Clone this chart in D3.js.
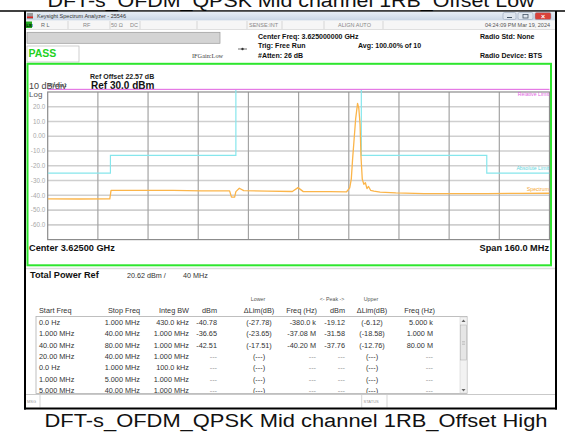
<!DOCTYPE html>
<html>
<head>
<meta charset="utf-8">
<script src="https://cdn.jsdelivr.net/npm/d3@7/dist/d3.min.js"></script>
<style>
  body { margin: 0; background: #fff; }
  svg { display: block; font-family: "Liberation Sans", Arial, sans-serif; }
</style>
</head>
<body>
<div class="canvas"></div>
<script>
// Spectrum trace: offset from center (MHz) and level (dBm)
const traceFreq = [-80, -70, -60.2, -59.8, -50, -40, -31, -22, -21.4, -20.4, -20, -18.9, -17.5, -10, -2,
    -0.2, 1.5, 10, 15.3, 16.3, 16.8, 17.2, 17.7, 18.2, 18.8, 19.2, 19.6, 19.9, 20.3, 20.8, 21.3,
    21.8, 22.3, 23, 24, 26, 31, 40, 50, 60, 70, 80];
const traceDbm = [-42.4, -42.5, -42.4, -36.6, -36.6, -36.7, -37.0, -37.0, -41.2, -41.2, -37.5, -35.2, -36.8, -37.1, -37.4,
    -34.8, -37.5, -37.5, -37.6, -35, -29, -16, -2, 12, 22.3, 19, 8, -14, -29, -32.5, -31.5,
    -35.5, -34, -36.7, -37.2, -37.8, -38.4, -38.8, -38.9, -38.8, -38.7, -38.6];

// Absolute limit line (cyan) and relative limit (magenta)
const absLimitFreq = [-80, -60, -60, -20, -20, 20, 20, 60, 60, 80];
const absLimitDbm = [-25, -25, -13, -13, 40, 40, -13, -13, -25, -25];
const relLimitFreq = [-80, 80];
const relLimitDbm = [31.8, 31.8];

// Axis labels
const yTickValues = [20, 10, 0, -10, -20, -30, -40, -50, -60];
const yTickLabels = ['20.0', '10.0', '0.00', '-10.0', '-20.0', '-30.0', '-40.0', '-50.0', '-60.0'];

// Result table
const startFreq = ['0.0 Hz', '1.000 MHz', '40.00 MHz', '20.00 MHz', '0.0 Hz', '1.000 MHz', '5.000 MHz'];
const stopFreq = ['1.000 MHz', '40.00 MHz', '80.00 MHz', '40.00 MHz', '1.000 MHz', '5.000 MHz', '40.00 MHz'];
const integBw = ['430.0 kHz', '1.000 MHz', '1.000 MHz', '1.000 MHz', '100.0 kHz', '1.000 MHz', '1.000 MHz'];
const lowerDbm = ['-40.78', '-36.65', '-42.51', '---', '---', '---', '---'];
const lowerDelta = ['(-27.78)', '(-23.65)', '(-17.51)', '(---)', '(---)', '(---)', '(---)'];
const lowerFreq = ['-380.0 k', '-37.08 M', '-40.20 M', '---', '---', '---', '---'];
const upperDbm = ['-19.12', '-31.58', '-37.76', '---', '---', '---', '---'];
const upperDelta = ['(-6.12)', '(-18.58)', '(-12.76)', '(---)', '(---)', '(---)', '(---)'];
const upperFreq = ['5.000 k', '1.000 M', '80.00 M', '---', '---', '---', '---'];

const dims = { width: 573, height: 433 };
const plot = { left: 47.7, right: 549.5, top: 92, bottom: 239.6 };

const svg = d3.select('.canvas')
    .append('svg')
    .attr('width', dims.width)
    .attr('height', dims.height);

const text = (x, y, s, size, opts = {}) => svg.append('text')
    .attr('x', x).attr('y', y)
    .attr('font-size', size)
    .attr('fill', opts.fill || '#222')
    .attr('font-weight', opts.bold ? 'bold' : 'normal')
    .attr('text-anchor', opts.anchor || 'start')
    .text(s);

// Captions
text(291, 6.7, 'DFT-s_OFDM_QPSK Mid channel 1RB_Offset Low', 18, { anchor: 'middle', fill: '#111' })
    .attr('textLength', 487).attr('lengthAdjust', 'spacingAndGlyphs');
text(296, 426.5, 'DFT-s_OFDM_QPSK Mid channel 1RB_Offset High', 18, { anchor: 'middle', fill: '#111' })
    .attr('textLength', 503).attr('lengthAdjust', 'spacingAndGlyphs');

// Window frame
svg.append('line').attr('x1', 0).attr('x2', 565).attr('y1', 11).attr('y2', 11)
    .attr('stroke', '#000').attr('stroke-width', 1.5);

const grad = svg.append('defs').append('linearGradient')
    .attr('id', 'titlebar').attr('x1', 0).attr('x2', 0).attr('y1', 0).attr('y2', 1);
grad.append('stop').attr('offset', '0%').attr('stop-color', '#e8eef6');
grad.append('stop').attr('offset', '100%').attr('stop-color', '#c9d5e4');

svg.append('rect').attr('x', 25).attr('y', 11.8).attr('width', 531).attr('height', 8.8)
    .attr('fill', 'url(#titlebar)');
svg.append('rect').attr('x', 27).attr('y', 13).attr('width', 6).attr('height', 6).attr('fill', '#999');
svg.append('rect').attr('x', 27).attr('y', 16.5).attr('width', 6).attr('height', 1.5).attr('fill', '#d22');
text(37, 17.8, 'Keysight Spectrum Analyzer - 25546', 5.5, { fill: '#333' });

// min / max / close buttons
[[503, 13, '#dfe6ef'], [518, 15, '#dfe6ef'], [535, 16, '#d9413a']].forEach(([x, w, c]) => {
    svg.append('rect').attr('x', x).attr('y', 12.5).attr('width', w).attr('height', 7)
        .attr('rx', 1.5).attr('fill', c).attr('stroke', '#8a9ab0').attr('stroke-width', 0.5);
});
svg.append('line').attr('x1', 507).attr('x2', 512).attr('y1', 17.5).attr('y2', 17.5).attr('stroke', '#456').attr('stroke-width', 1);
svg.append('rect').attr('x', 523).attr('y', 14.5).attr('width', 5).attr('height', 3.5).attr('fill', 'none').attr('stroke', '#456').attr('stroke-width', 0.8);
svg.append('text').attr('x', 543).attr('y', 18.5).attr('font-size', 7).attr('font-weight', 'bold')
    .attr('text-anchor', 'middle').attr('fill', '#fff').text('×');

// status row
svg.append('rect').attr('x', 25).attr('y', 20.6).attr('width', 531).attr('height', 8.8)
    .attr('fill', '#f6f6f6');
svg.append('line').attr('x1', 25).attr('x2', 556).attr('y1', 29.5).attr('y2', 29.5).attr('stroke', '#ccc').attr('stroke-width', 0.6);
svg.append('rect').attr('x', 26).attr('y', 21.5).attr('width', 6).attr('height', 6.5).attr('fill', '#1fa81f');
text(26.4, 27, 'LXI', 4, { fill: '#000', bold: true });
[68, 110, 140, 197, 247, 282, 324, 383].forEach(x => {
    svg.append('line').attr('x1', x).attr('x2', x).attr('y1', 21).attr('y2', 29)
        .attr('stroke', '#c4c4c4').attr('stroke-width', 0.6);
});
text(41, 27, 'R L', 5.5, { fill: '#666' });
text(83, 27, 'RF', 5.5, { fill: '#888' });
text(111, 27, '50 Ω', 5.5, { fill: '#888' });
text(130, 27, 'DC', 5.5, { fill: '#888' });
text(249, 27, 'SENSE:INT', 5.5, { fill: '#888' });
text(338, 27, 'ALIGN AUTO', 5.5, { fill: '#888' });
text(550, 27, '04:24:09 PM Mar 19, 2024', 5.5, { fill: '#555', anchor: 'end' });

// header area
svg.append('rect').attr('x', 27).attr('y', 32.3).attr('width', 193).attr('height', 11)
    .attr('fill', '#d4d4d4').attr('stroke', '#999').attr('stroke-width', 0.7);
svg.append('rect').attr('x', 27).attr('y', 46).attr('width', 52).attr('height', 16)
    .attr('fill', '#fff').attr('stroke', '#bbb').attr('stroke-width', 0.7);
text(28.5, 57, 'PASS', 10.5, { fill: '#1fd21f', bold: true });
text(192, 57.5, 'IFGain:Low', 6.3, { fill: '#444' }).attr('font-family', '"Liberation Serif", serif');
svg.append('line').attr('x1', 238).attr('x2', 247).attr('y1', 49).attr('y2', 49).attr('stroke', '#333').attr('stroke-width', 0.7);
svg.append('circle').attr('cx', 242.5).attr('cy', 49).attr('r', 1.2).attr('fill', '#333');
text(258, 38.5, 'Center Freq: 3.625000000 GHz', 7, { fill: '#111', bold: true });
text(258, 48, 'Trig: Free Run', 7, { fill: '#111', bold: true });
text(258, 57.5, '#Atten: 26 dB', 7, { fill: '#111', bold: true });
text(358, 48, 'Avg: 100.00% of 10', 7, { fill: '#111', bold: true });
text(480, 38.5, 'Radio Std: None', 7, { fill: '#111', bold: true });
text(480, 57.5, 'Radio Device: BTS', 7, { fill: '#111', bold: true });

// green measurement frame
svg.append('rect').attr('x', 27.5).attr('y', 63.8).attr('width', 523.5).attr('height', 201.5)
    .attr('fill', '#fff').attr('stroke', '#2ee62e').attr('stroke-width', 2);

// Scales
const x = d3.scaleLinear().domain([-80, 80]).range([plot.left, plot.right]);
const y = d3.scaleLinear().domain([-70, 30]).range([plot.bottom, plot.top]);

// Grid
const graph = svg.append('g');
graph.selectAll('.hgrid')
    .data(d3.range(-60, 30, 10))
    .enter().append('line')
        .attr('x1', plot.left).attr('x2', plot.right)
        .attr('y1', d => y(d)).attr('y2', d => y(d))
        .attr('stroke', '#cfcfcf').attr('stroke-width', 1.6);
graph.selectAll('.vgrid')
    .data(d3.range(-64, 80, 16))
    .enter().append('line')
        .attr('x1', d => x(d)).attr('x2', d => x(d))
        .attr('y1', plot.top).attr('y2', plot.bottom)
        .attr('stroke', '#a4a4a4').attr('stroke-width', 1.2);
graph.append('rect')
    .attr('x', plot.left).attr('y', plot.top)
    .attr('width', plot.right - plot.left).attr('height', plot.bottom - plot.top)
    .attr('fill', 'none').attr('stroke', '#8c8c8c').attr('stroke-width', 1.2);

// y tick labels
graph.selectAll('.ylab')
    .data(yTickValues)
    .enter().append('text')
        .attr('x', plot.left - 2.5)
        .attr('y', d => y(d) + 2.2)
        .attr('text-anchor', 'end')
        .attr('font-size', 6.3)
        .attr('fill', '#a8a8a8')
        .text((d, i) => yTickLabels[i]);

// plot texts
text(90, 78.5, 'Ref Offset 22.57 dB', 7, { fill: '#222', bold: true });
text(91, 88.5, 'Ref 30.0 dBm', 10, { fill: '#111', bold: true });
text(29, 88.5, '10 dB/div', 9, { fill: '#444' });
text(48, 86.5, 'Window1', 4.5, { fill: '#333' });
text(29, 97, 'Log', 8, { fill: '#555' });
text(29, 250.5, 'Center 3.62500 GHz', 9.2, { fill: '#111', bold: true });
text(549, 250.5, 'Span 160.0 MHz', 9.2, { fill: '#111', bold: true, anchor: 'end' });

// Traces
const clip = svg.append('clipPath').attr('id', 'plotclip');
clip.append('rect').attr('x', plot.left).attr('y', plot.top - 2)
    .attr('width', plot.right - plot.left).attr('height', plot.bottom - plot.top + 2);

const line = d3.line().x(d => x(d[0])).y(d => y(d[1]));

svg.append('path')
    .attr('d', line(relLimitFreq.map((f, i) => [f, relLimitDbm[i]])))
    .attr('fill', 'none').attr('stroke', '#e060e0').attr('stroke-width', 1);

svg.append('path')
    .attr('clip-path', 'url(#plotclip)')
    .attr('d', line(absLimitFreq.map((f, i) => [f, absLimitDbm[i]])))
    .attr('fill', 'none').attr('stroke', '#86e6ec').attr('stroke-width', 1.2);

svg.append('path')
    .attr('clip-path', 'url(#plotclip)')
    .attr('d', line(traceFreq.map((f, i) => [f, traceDbm[i]])))
    .attr('fill', 'none').attr('stroke', '#fbb54a').attr('stroke-width', 1.3)
    .attr('stroke-linejoin', 'round');

text(549, 96, 'Relative Limit', 5.2, { fill: '#e060e0', anchor: 'end' });
text(549, 170, 'Absolute Limit', 5.2, { fill: '#5fd6e0', anchor: 'end' });
text(549, 191, 'Spectrum', 5.2, { fill: '#f5a935', anchor: 'end' });

// Total power
svg.append('line').attr('x1', 26).attr('x2', 555).attr('y1', 268.5).attr('y2', 268.5)
    .attr('stroke', '#ddd').attr('stroke-width', 1.5);
text(30, 277.5, 'Total Power Ref', 9.2, { fill: '#111', bold: true });
text(127, 277.5, '20.62 dBm /', 7.2, { fill: '#333' });
text(183, 277.5, '40 MHz', 7.2, { fill: '#333' });

// Table headers
text(258, 301, 'Lower', 5.3, { fill: '#555', anchor: 'middle' });
text(332, 301, '<- Peak ->', 5.3, { fill: '#555', anchor: 'middle' });
text(371, 301, 'Upper', 5.3, { fill: '#555', anchor: 'middle' });
const hdrY = 313;
text(39, hdrY, 'Start Freq', 7.3, { fill: '#333' });
text(140, hdrY, 'Stop Freq', 7.3, { fill: '#333', anchor: 'end' });
text(189, hdrY, 'Integ BW', 7.3, { fill: '#333', anchor: 'end' });
text(217, hdrY, 'dBm', 7.3, { fill: '#333', anchor: 'end' });
text(259, hdrY, 'ΔLim(dB)', 7.3, { fill: '#333', anchor: 'middle' });
text(317, hdrY, 'Freq (Hz)', 7.3, { fill: '#333', anchor: 'end' });
text(345, hdrY, 'dBm', 7.3, { fill: '#333', anchor: 'end' });
text(372, hdrY, 'ΔLim(dB)', 7.3, { fill: '#333', anchor: 'middle' });
text(435, hdrY, 'Freq (Hz)', 7.3, { fill: '#333', anchor: 'end' });

// Table box
svg.append('rect').attr('x', 36).attr('y', 316.5).attr('width', 431).attr('height', 77)
    .attr('fill', '#fff').attr('stroke', '#b0b0b0').attr('stroke-width', 0.8);
const tclip = svg.append('clipPath').attr('id', 'tableclip');
tclip.append('rect').attr('x', 36).attr('y', 317).attr('width', 424).attr('height', 76);

const columns = [
    { data: startFreq, x: 39, anchor: 'start' },
    { data: stopFreq, x: 140, anchor: 'end' },
    { data: integBw, x: 189, anchor: 'end' },
    { data: lowerDbm, x: 217, anchor: 'end' },
    { data: lowerDelta, x: 259, anchor: 'middle' },
    { data: lowerFreq, x: 316, anchor: 'end' },
    { data: upperDbm, x: 345, anchor: 'end' },
    { data: upperDelta, x: 372, anchor: 'middle' },
    { data: upperFreq, x: 433, anchor: 'end' }
];
const rows = svg.append('g').attr('clip-path', 'url(#tableclip)');
columns.forEach(col => {
    rows.selectAll(null)
        .data(col.data)
        .enter().append('text')
            .attr('x', col.x)
            .attr('y', (d, i) => 324.8 + i * 11.4)
            .attr('text-anchor', col.anchor)
            .attr('font-size', 7.3)
            .attr('fill', d => d.includes('--') && !d.includes('(') ? '#999' : '#333')
            .text(d => d);
});

// scrollbar
svg.append('rect').attr('x', 460).attr('y', 317).attr('width', 7).attr('height', 76)
    .attr('fill', '#f2f2f2').attr('stroke', '#ccc').attr('stroke-width', 0.5);
svg.append('rect').attr('x', 460.7).attr('y', 325).attr('width', 5.6).attr('height', 35)
    .attr('fill', '#e6e6e6').attr('stroke', '#aaa').attr('stroke-width', 0.5);
svg.append('path').attr('d', 'M461.5,322 L463.5,319.5 L465.5,322 Z').attr('fill', '#666');
svg.append('path').attr('d', 'M461.5,389 L463.5,391.5 L465.5,389 Z').attr('fill', '#666');
[341.5, 343, 344.5].forEach(yy => {
    svg.append('line').attr('x1', 462).attr('x2', 465).attr('y1', yy).attr('y2', yy)
        .attr('stroke', '#999').attr('stroke-width', 0.4);
});

// message bar
svg.append('line').attr('x1', 25).attr('x2', 556).attr('y1', 394.5).attr('y2', 394.5)
    .attr('stroke', '#bbb').attr('stroke-width', 0.8);
[40, 361.7, 387].forEach(xx => {
    svg.append('line').attr('x1', xx).attr('x2', xx).attr('y1', 395).attr('y2', 407.5)
        .attr('stroke', '#bbb').attr('stroke-width', 0.6);
});
text(27, 403, 'MSG', 4, { fill: '#999' });
text(363.5, 403, 'STATUS', 4, { fill: '#999' });

// window borders
svg.append('line').attr('x1', 24).attr('x2', 557).attr('y1', 408.6).attr('y2', 408.6)
    .attr('stroke', '#000').attr('stroke-width', 2);
svg.append('line').attr('x1', 25).attr('x2', 25).attr('y1', 11).attr('y2', 409.5)
    .attr('stroke', '#000').attr('stroke-width', 2);
svg.append('line').attr('x1', 556).attr('x2', 556).attr('y1', 11).attr('y2', 409.5)
    .attr('stroke', '#000').attr('stroke-width', 2);
</script>
</body>
</html>
